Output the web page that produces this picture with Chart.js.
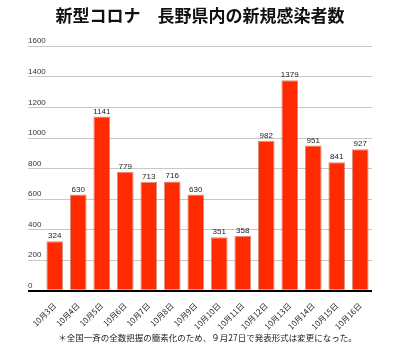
<!DOCTYPE html>
<html lang="ja">
<head>
  <meta charset="UTF-8">
  <title>新型コロナ　長野県内の新規感染者数</title>
  <script src="https://cdn.jsdelivr.net/npm/chart.js"></script>
  <style>
    html, body {
      margin: 0;
      padding: 0;
      background: #fff;
    }
    #wrap {
      position: relative;
      width: 400px;
      height: 359px;
    }
  </style>
</head>
<body>
  <div id="wrap">
    <canvas id="chart"></canvas>
  </div>

  <script>
    const days = ["10月3日", "10月4日", "10月5日", "10月6日", "10月7日", "10月8日", "10月9日",
                  "10月10日", "10月11日", "10月12日", "10月13日", "10月14日", "10月15日", "10月16日"];
    const cases = [324, 630, 1141, 779, 713, 716, 630, 351, 358, 982, 1379, 951, 841, 927];
    const yTicks = [0, 200, 400, 600, 800, 1000, 1200, 1400, 1600];

    const jp = '"Noto Sans CJK JP", "Noto Sans", sans-serif';
    const num = '"Liberation Sans", Arial, sans-serif';

    // y labels sit above their gridlines, values sit above bars
    const labelsPlugin = {
      id: "labels",
      afterDatasetsDraw(chart) {
        const ctx = chart.ctx;
        const y = chart.scales.y;
        ctx.save();
        ctx.font = "8px " + num;
        ctx.fillStyle = "#333";
        ctx.textAlign = "left";
        ctx.textBaseline = "alphabetic";
        yTicks.forEach(v => {
          ctx.fillText(String(v), 28, y.getPixelForValue(v) - 3);
        });

        ctx.textAlign = "center";
        ctx.fillStyle = "#222";
        const meta = chart.getDatasetMeta(0);
        meta.data.forEach((bar, i) => {
          ctx.fillText(String(cases[i]), bar.x, bar.y - 3);
        });
        ctx.restore();
      }
    };

    new Chart(document.getElementById("chart"), {
      type: "bar",
      data: {
        labels: days,
        datasets: [{
          data: cases,
          backgroundColor: "#ff2a00",
          borderColor: "rgba(190,50,20,0.55)",
          borderWidth: 1,
          borderSkipped: "bottom",
          barPercentage: 0.71,
          categoryPercentage: 1
        }]
      },
      options: {
        responsive: true,
        maintainAspectRatio: false,
        animation: false,
        layout: { padding: 0 },
        plugins: {
          legend: { display: false },
          tooltip: { enabled: false },
          title: {
            display: true,
            text: "新型コロナ　長野県内の新規感染者数",
            color: "#111",
            font: { family: jp, size: 17, weight: "bold" },
            padding: { top: 5, bottom: 21 }
          },
          subtitle: {
            display: true,
            position: "bottom",
            fullSize: false,
            text: "＊全国一斉の全数把握の簡素化のため、９月27日で発表形式は変更になった。",
            color: "#222",
            font: { family: jp, size: 8.5 },
            padding: { top: 0, bottom: 16 }
          }
        },
        scales: {
          x: {
            grid: { display: false },
            border: { display: false },
            ticks: {
              color: "#222",
              font: { family: jp, size: 8 },
              minRotation: 45,
              maxRotation: 45,
              padding: 2
            },
            afterFit(scale) { scale.height = 42; }
          },
          y: {
            min: 0,
            max: 1600,
            border: { display: false },
            ticks: { display: false, stepSize: 200 },
            grid: {
              drawTicks: true,
              tickLength: 15,
              color: c => c.tick && c.tick.value === 0 ? "#000" : "#c8c8c8",
              lineWidth: c => c.tick && c.tick.value === 0 ? 2 : 1
            },
            afterFit(scale) { scale.width = 43; }
          },
          // empty right-hand strip so the title stays centred on the page
          right: {
            position: "right",
            display: true,
            grid: { display: false },
            border: { display: false },
            ticks: { display: false },
            afterFit(scale) { scale.width = 28; }
          }
        }
      },
      plugins: [labelsPlugin]
    });
  </script>
</body>
</html>
